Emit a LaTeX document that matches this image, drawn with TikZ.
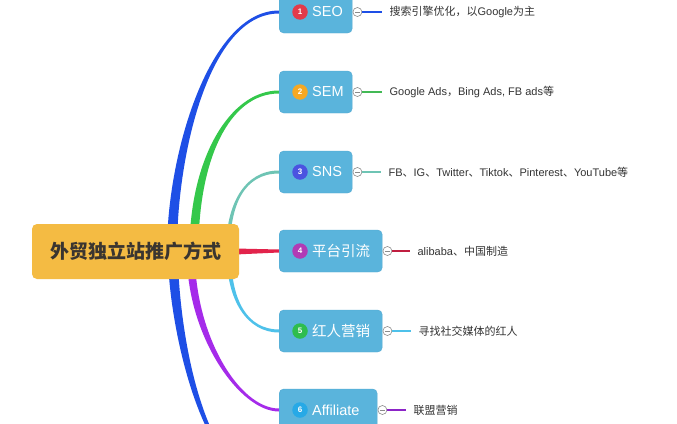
\documentclass[tikz,border=0pt]{standalone}
\usepackage{fontspec}
\setmainfont{Noto Sans CJK SC}
\newfontfamily\lat{Liberation Sans}
\usetikzlibrary{calc}
\pgfdeclarelayer{bg}
\pgfsetlayers{bg,main}
\definecolor{boxblue}{HTML}{5AB4DC}
\definecolor{boxedge}{HTML}{52A9D2}
\definecolor{rootorange}{HTML}{F4BB43}
\definecolor{roottext}{HTML}{3A3530}
\definecolor{leafgray}{HTML}{333333}
\definecolor{foldgray}{HTML}{8A8A8A}
\definecolor{cBlue}{HTML}{1E4FE6}
\definecolor{cGreen}{HTML}{34C84B}
\definecolor{cTeal}{HTML}{6EC4B4}
\definecolor{cRed}{HTML}{E2234B}
\definecolor{cLight}{HTML}{4EC1EA}
\definecolor{cPurple}{HTML}{A52BEA}
\definecolor{n1}{HTML}{E23B4B}
\definecolor{n2}{HTML}{F5A823}
\definecolor{n3}{HTML}{4B53E0}
\definecolor{n4}{HTML}{B13BB5}
\definecolor{n5}{HTML}{2EBD4E}
\definecolor{n6}{HTML}{27A9E6}
\newcommand\tapup[6]{%
  \fill[#1] ($(#2)+(-#6,0)$) .. controls ($(#2)+#3+(-#6,0)$) and ($(#5)+#4+(0,-1.5)$) .. ($(#5)+(0,-1.5)$)
    -- ($(#5)+(0,1.5)$) .. controls ($(#5)+#4+(0,1.5)$) and ($(#2)+#3+(#6,0)$) .. ($(#2)+(#6,0)$) -- cycle;}
\newcommand\tapdown[6]{%
  \fill[#1] ($(#2)+(-#6,0)$) .. controls ($(#2)+#3+(-#6,0)$) and ($(#5)+#4+(0,1.5)$) .. ($(#5)+(0,1.5)$)
    -- ($(#5)+(0,-1.5)$) .. controls ($(#5)+#4+(0,-1.5)$) and ($(#2)+#3+(#6,0)$) .. ($(#2)+(#6,0)$) -- cycle;}
\tikzset{
  rootbox/.style={fill=rootorange, rounded corners=5pt, minimum width=207pt, minimum height=55pt,
    inner sep=0pt, text=roottext, font=\bfseries\fontsize{19}{19}\selectfont},
  topic/.style={draw=boxedge, fill=boxblue, rounded corners=4.5pt, minimum height=42pt, anchor=west, inner sep=0pt},
  numc/.style={circle, fill=#1, minimum size=15.5pt, inner sep=0pt, text=white,
    font=\lat\bfseries\fontsize{8}{8}\selectfont},
  topictext/.style={anchor=west, inner sep=0pt, text=white, font=\fontsize{14.5}{14.5}\selectfont},
  foldc/.style={circle, draw=foldgray, fill=white, minimum size=9pt, inner sep=0pt, line width=0.6pt,
    path picture={\draw[foldgray,line width=0.5pt] ($(path picture bounding box.center)+(-2.4,0)$) -- ($(path picture bounding box.center)+(2.4,0)$);}},
  leaf/.style={anchor=west, inner sep=0pt, text=leafgray, font=\fontsize{11}{11}\selectfont},
  leader/.style={line width=1.5pt},
}
\begin{document}
\begin{tikzpicture}[x=1pt,y=-1pt]
\useasboundingbox (0,0) rectangle (677,423);
% root
\node[rootbox] (root) at (135.5,251.5) {外贸独立站推广方式};
% topics
\node[topic, minimum width=73pt] (seo) at (279,12) {};
\node[topic, minimum width=73pt] (sem) at (279,92) {};
\node[topic, minimum width=73pt] (sns) at (279,172) {};
\node[topic, minimum width=103pt] (pt) at (279,251) {};
\node[topic, minimum width=103pt] (hr) at (279,331) {};
\node[topic, minimum width=98pt] (af) at (279,410) {};
% numbers
\node[numc=n1] (k1) at ($(seo.west)+(21,0)$) {1};
\node[numc=n2] (k2) at ($(sem.west)+(21,0)$) {2};
\node[numc=n3] (k3) at ($(sns.west)+(21,0)$) {3};
\node[numc=n4] (k4) at ($(pt.west)+(21,0)$) {4};
\node[numc=n5] (k5) at ($(hr.west)+(21,0)$) {5};
\node[numc=n6] (k6) at ($(af.west)+(21,0)$) {6};
% topic texts
\node[topictext] (t1) at ($(seo.west)+(33,0)$) {\lat SEO};
\node[topictext] (t2) at ($(sem.west)+(33,0)$) {\lat SEM};
\node[topictext] (t3) at ($(sns.west)+(33,0)$) {\lat SNS};
\node[topictext] (t4) at ($(pt.west)+(33,0)$) {平台引流};
\node[topictext] (t5) at ($(hr.west)+(33,0)$) {红人营销};
\node[topictext] (t6) at ($(af.west)+(33,0)$) {\lat Affiliate};
% fold circles
\node[foldc] (f1) at ($(seo.east)+(5,0)$) {};
\node[foldc] (f2) at ($(sem.east)+(5,0)$) {};
\node[foldc] (f3) at ($(sns.east)+(5,0)$) {};
\node[foldc] (f4) at ($(pt.east)+(5,0)$) {};
\node[foldc] (f5) at ($(hr.east)+(5,0)$) {};
\node[foldc] (f6) at ($(af.east)+(5,0)$) {};
% leaves
\node[leaf] (l1) at ($(f1)+(32,0)$) {搜索引擎优化，以{\lat Google}为主};
\node[leaf] (l2) at ($(f2)+(32,0)$) {{\lat Google Ads}，{\lat Bing Ads, FB ads}等};
\node[leaf] (l3) at ($(f3)+(31,0)$) {{\lat FB}、{\lat IG}、{\lat Twitter}、{\lat Tiktok}、{\lat Pinterest}、{\lat YouTube}等};
\node[leaf] (l4) at ($(f4)+(30,0)$) {{\lat alibaba}、中国制造};
\node[leaf] (l5) at ($(f5)+(31,0)$) {寻找社交媒体的红人};
\node[leaf] (l6) at ($(f6)+(31,0)$) {联盟营销};
% leader lines
\draw[leader, cBlue] (f1.east) -- ($(l1.west)+(-7,0)$);
\draw[leader, cGreen!80!gray] (f2.east) -- ($(l2.west)+(-7,0)$);
\draw[leader, cTeal] (f3.east) -- ($(l3.west)+(-7,0)$);
\draw[leader, cRed!85!black] (f4.east) -- ($(l4.west)+(-7,0)$);
\draw[leader, cLight] (f5.east) -- ($(l5.west)+(-7,0)$);
\draw[leader, cPurple!85!black] (f6.east) -- ($(l6.west)+(-7,0)$);
% branch starts
\coordinate (s1) at ($(root.center)+(36.5,-1.5)$);
\coordinate (s2) at ($(root.center)+(58.5,-1.5)$);
\coordinate (s3) at ($(root.center)+(92.5,-1.5)$);
\coordinate (s5) at ($(root.center)+(93.5,3.5)$);
\coordinate (s6) at ($(root.center)+(55.5,3.5)$);
\coordinate (s7) at ($(root.center)+(37.5,3.5)$);
\coordinate (off) at (279,490);
\begin{pgfonlayer}{bg}
\fill[white] (0,0) rectangle (677,423);
\tapup{cBlue}{s1}{(0,-95)}{(-70,0)}{seo.west}{5}
\tapup{cGreen}{s2}{(0,-90)}{(-50,0)}{sem.west}{4.5}
\tapup{cTeal}{s3}{(0,-45)}{(-35,0)}{sns.west}{2}
\fill[cRed] ($(root.east)+(-4,-3)$) -- ($(pt.west)+(0,-1.5)$) -- ($(pt.west)+(0,1.5)$) -- ($(root.east)+(-4,3)$) -- cycle;
\tapdown{cLight}{s5}{(0,45)}{(-32,0)}{hr.west}{2.2}
\tapdown{cPurple}{s6}{(0,80)}{(-40,0)}{af.west}{4}
\tapdown{cBlue}{s7}{(0,60)}{(-80,0)}{off}{5}
\end{pgfonlayer}
\end{tikzpicture}
\end{document}
